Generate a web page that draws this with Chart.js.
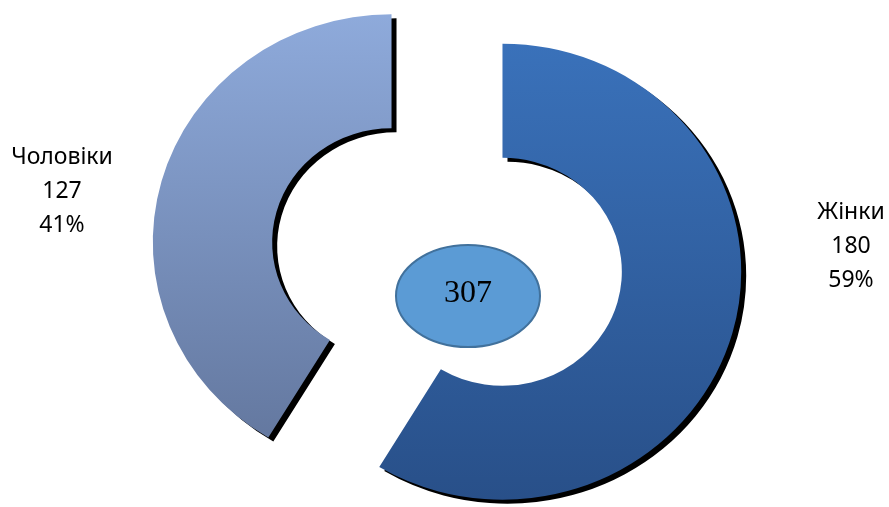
<!DOCTYPE html>
<html>
<head>
<meta charset="utf-8">
<script src="https://cdn.jsdelivr.net/npm/chart.js@4.4.0/dist/chart.umd.min.js"></script>
<style>
  html, body { margin: 0; padding: 0; background: #fff; }
  #wrap { width: 889px; height: 507px; }
</style>
</head>
<body>
<div id="wrap"><canvas id="donut" width="889" height="507"></canvas></div>
<script>
// Дані діаграми
const categories = ['Жінки', 'Чоловіки'];
const counts = [180, 127];
const percents = ['59%', '41%'];
const total = 307;

// кольори градієнтів (верх, низ)
const topColors = ['#3b74be', '#8fabdc'];
const bottomColors = ['#284f88', '#5d7096'];

const explode = 55;     // відсув сегментів
const stretchX = 1.047; // діаграма трохи розтягнута по горизонталі

// Відсунути сегменти вздовж бісектриси
const explodePlugin = {
  id: 'explode',
  afterDatasetsUpdate(chart) {
    chart.getDatasetMeta(0).data.forEach(arc => {
      const mid = (arc.startAngle + arc.endAngle) / 2;
      arc.x += Math.cos(mid) * explode;
      arc.y += Math.sin(mid) * explode;
    });
  },
  beforeDatasetsDraw(chart) {
    const ctx = chart.ctx;
    const cx = (chart.chartArea.left + chart.chartArea.right) / 2;
    ctx.save();
    ctx.translate(cx, 0);
    ctx.scale(stretchX, 1);
    ctx.translate(-cx, 0);
    ctx.shadowColor = '#000';
    ctx.shadowOffsetX = 5;
    ctx.shadowOffsetY = 4;
    ctx.shadowBlur = 0;
  },
  afterDatasetsDraw(chart) {
    chart.ctx.restore();
  }
};

// Підписи та овал з підсумком
const labelsPlugin = {
  id: 'sideLabels',
  afterDraw(chart) {
    const ctx = chart.ctx;
    ctx.save();
    // овал у центрі
    ctx.beginPath();
    ctx.ellipse(468, 296, 72, 51, 0, 0, Math.PI * 2);
    ctx.fillStyle = '#5b9bd5';
    ctx.fill();
    ctx.lineWidth = 2;
    ctx.strokeStyle = '#41719c';
    ctx.stroke();
    ctx.fillStyle = '#000';
    ctx.textAlign = 'center';
    ctx.textBaseline = 'alphabetic';
    ctx.font = '32px "Liberation Serif", serif';
    ctx.fillText(String(total), 468, 302);

    ctx.font = '23px "Noto Sans", sans-serif';
    ctx.fillStyle = '#000';
    const spots = [[851, 219], [62, 164]];
    categories.forEach((name, i) => {
      const [x, y] = spots[i];
      ctx.fillText(name, x, y);
      ctx.fillText(String(counts[i]), x, y + 34);
      ctx.fillText(percents[i], x, y + 68);
    });
    ctx.restore();
  }
};

const ctx = document.getElementById('donut').getContext('2d');
const chart = new Chart(ctx, {
  type: 'doughnut',
  data: {
    labels: categories,
    datasets: [{
      data: counts,
      backgroundColor: (c) => {
        const area = c.chart.chartArea;
        if (!area) return topColors[c.dataIndex];
        const g = c.chart.ctx.createLinearGradient(0, area.top, 0, area.bottom);
        g.addColorStop(0, topColors[c.dataIndex]);
        g.addColorStop(1, bottomColors[c.dataIndex]);
        return g;
      },
      borderWidth: 0
    }]
  },
  options: {
    responsive: false,
    animation: false,
    radius: 228,
    cutout: '50%',
    layout: { padding: { left: 5, top: 7 } },
    plugins: {
      legend: { display: false },
      tooltip: { enabled: false }
    }
  },
  plugins: [explodePlugin, labelsPlugin]
});
</script>
</body>
</html>
